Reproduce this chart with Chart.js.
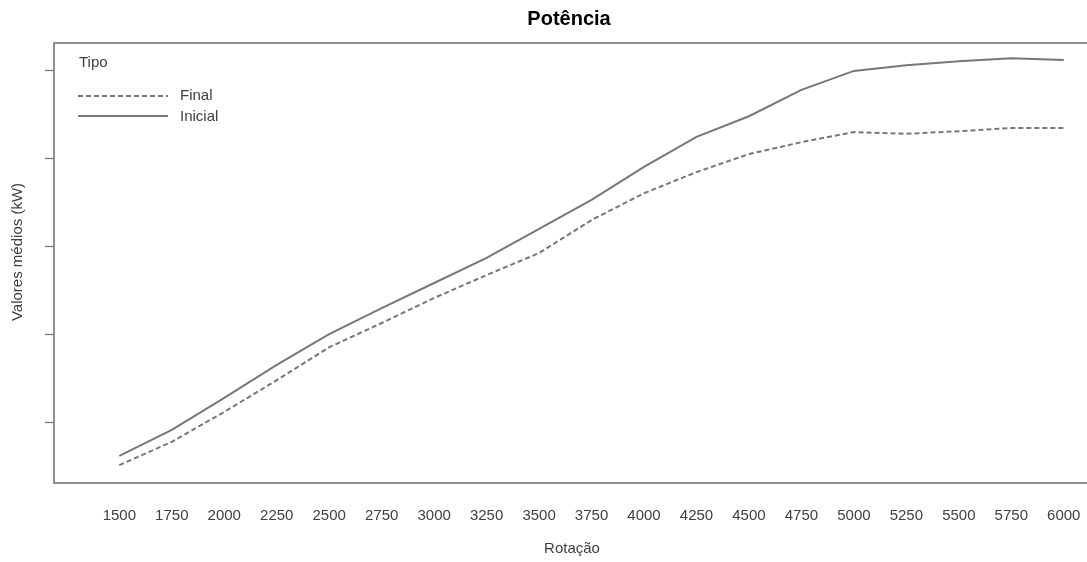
<!DOCTYPE html>
<html>
<head>
<meta charset="utf-8">
<script src="https://cdn.jsdelivr.net/npm/chart.js@4"></script>
<style>
  html, body { margin: 0; padding: 0; background: #fff; overflow: hidden; }
  #wrap { position: relative; width: 1095px; height: 562px; }
</style>
</head>
<body>
<div id="wrap"><canvas id="chart"></canvas></div>
<script>
// ---- data (potência média, kW) ----
const rotacao = [1500, 1750, 2000, 2250, 2500, 2750, 3000, 3250, 3500, 3750,
                 4000, 4250, 4500, 4750, 5000, 5250, 5500, 5750, 6000];
const inicial = [12.3, 18.2, 25.5, 33.0, 40.0, 45.9, 51.6, 57.3, 63.9, 70.5,
                 78.0, 84.8, 89.5, 95.5, 99.8, 101.1, 102.0, 102.7, 102.3];
const final = [10.2, 15.5, 22.3, 29.5, 37.0, 42.5, 48.2, 53.4, 58.4, 65.9,
               72.0, 76.8, 80.9, 83.6, 85.9, 85.5, 86.1, 86.8, 86.8];
const yTicks = [20, 40, 60, 80, 100];

const FONT = '"Liberation Sans", Arial, sans-serif';
const GREY = '#777777';
const TEXT = '#404040';

// frame, ticks, labels, legend - R base-graphics look
const rDecor = {
  id: 'rDecor',
  afterDraw(chart) {
    const { ctx, chartArea: a, scales: { x, y } } = chart;
    ctx.save();

    // box
    ctx.strokeStyle = GREY;
    ctx.lineWidth = 1.6;
    ctx.strokeRect(a.left, a.top, a.right - a.left, a.bottom - a.top);

    // y ticks (no labels)
    ctx.lineWidth = 1.3;
    yTicks.forEach(v => {
      const py = Math.round(y.getPixelForValue(v)) + 0.5;
      ctx.beginPath();
      ctx.moveTo(a.left - 9, py);
      ctx.lineTo(a.left, py);
      ctx.stroke();
    });

    // x labels
    ctx.fillStyle = TEXT;
    ctx.font = '15px ' + FONT;
    ctx.textAlign = 'center';
    ctx.textBaseline = 'middle';
    rotacao.forEach(r => ctx.fillText(String(r), x.getPixelForValue(r), 516));

    // axis titles
    ctx.fillText('Rotação', (a.left + a.right) / 2, 549);
    ctx.save();
    ctx.translate(18, 252);
    ctx.rotate(-Math.PI / 2);
    ctx.fillText('Valores médios (kW)', 0, 0);
    ctx.restore();

    // title
    ctx.fillStyle = '#000';
    ctx.font = 'bold 20px ' + FONT;
    ctx.fillText('Potência', (a.left + a.right) / 2 - 3, 19);

    // legend
    ctx.fillStyle = TEXT;
    ctx.font = '15px ' + FONT;
    ctx.textAlign = 'left';
    ctx.fillText('Tipo', 79, 63);
    ctx.fillText('Final', 180, 96);
    ctx.fillText('Inicial', 180, 117);
    ctx.strokeStyle = GREY;
    ctx.lineWidth = 2;
    ctx.setLineDash([5, 3]);
    ctx.beginPath(); ctx.moveTo(78, 96); ctx.lineTo(168, 96); ctx.stroke();
    ctx.setLineDash([]);
    ctx.beginPath(); ctx.moveTo(78, 116); ctx.lineTo(168, 116); ctx.stroke();

    ctx.restore();
  }
};

const xMin = rotacao[0] - 1.245 * 250;
const xMax = rotacao[0] + 18.5 * 250;

new Chart(document.getElementById('chart'), {
  type: 'line',
  data: {
    datasets: [
      {
        label: 'Final',
        data: final.map((v, i) => ({ x: rotacao[i], y: v })),
        borderColor: GREY,
        borderWidth: 2,
        borderDash: [5, 3],
        pointRadius: 0,
        tension: 0,
        fill: false
      },
      {
        label: 'Inicial',
        data: inicial.map((v, i) => ({ x: rotacao[i], y: v })),
        borderColor: GREY,
        borderWidth: 2,
        pointRadius: 0,
        tension: 0,
        fill: false
      }
    ]
  },
  options: {
    responsive: true,
    maintainAspectRatio: false,
    animation: false,
    layout: { padding: { left: 54, top: 43, right: 1095 - 1090, bottom: 562 - 483 } },
    plugins: { legend: { display: false }, title: { display: false }, tooltip: { enabled: false } },
    scales: {
      x: { type: 'linear', min: xMin, max: xMax, display: false },
      y: { type: 'linear', min: 6.14, max: 106.14, display: false }
    }
  },
  plugins: [rDecor]
});
</script>
</body>
</html>
